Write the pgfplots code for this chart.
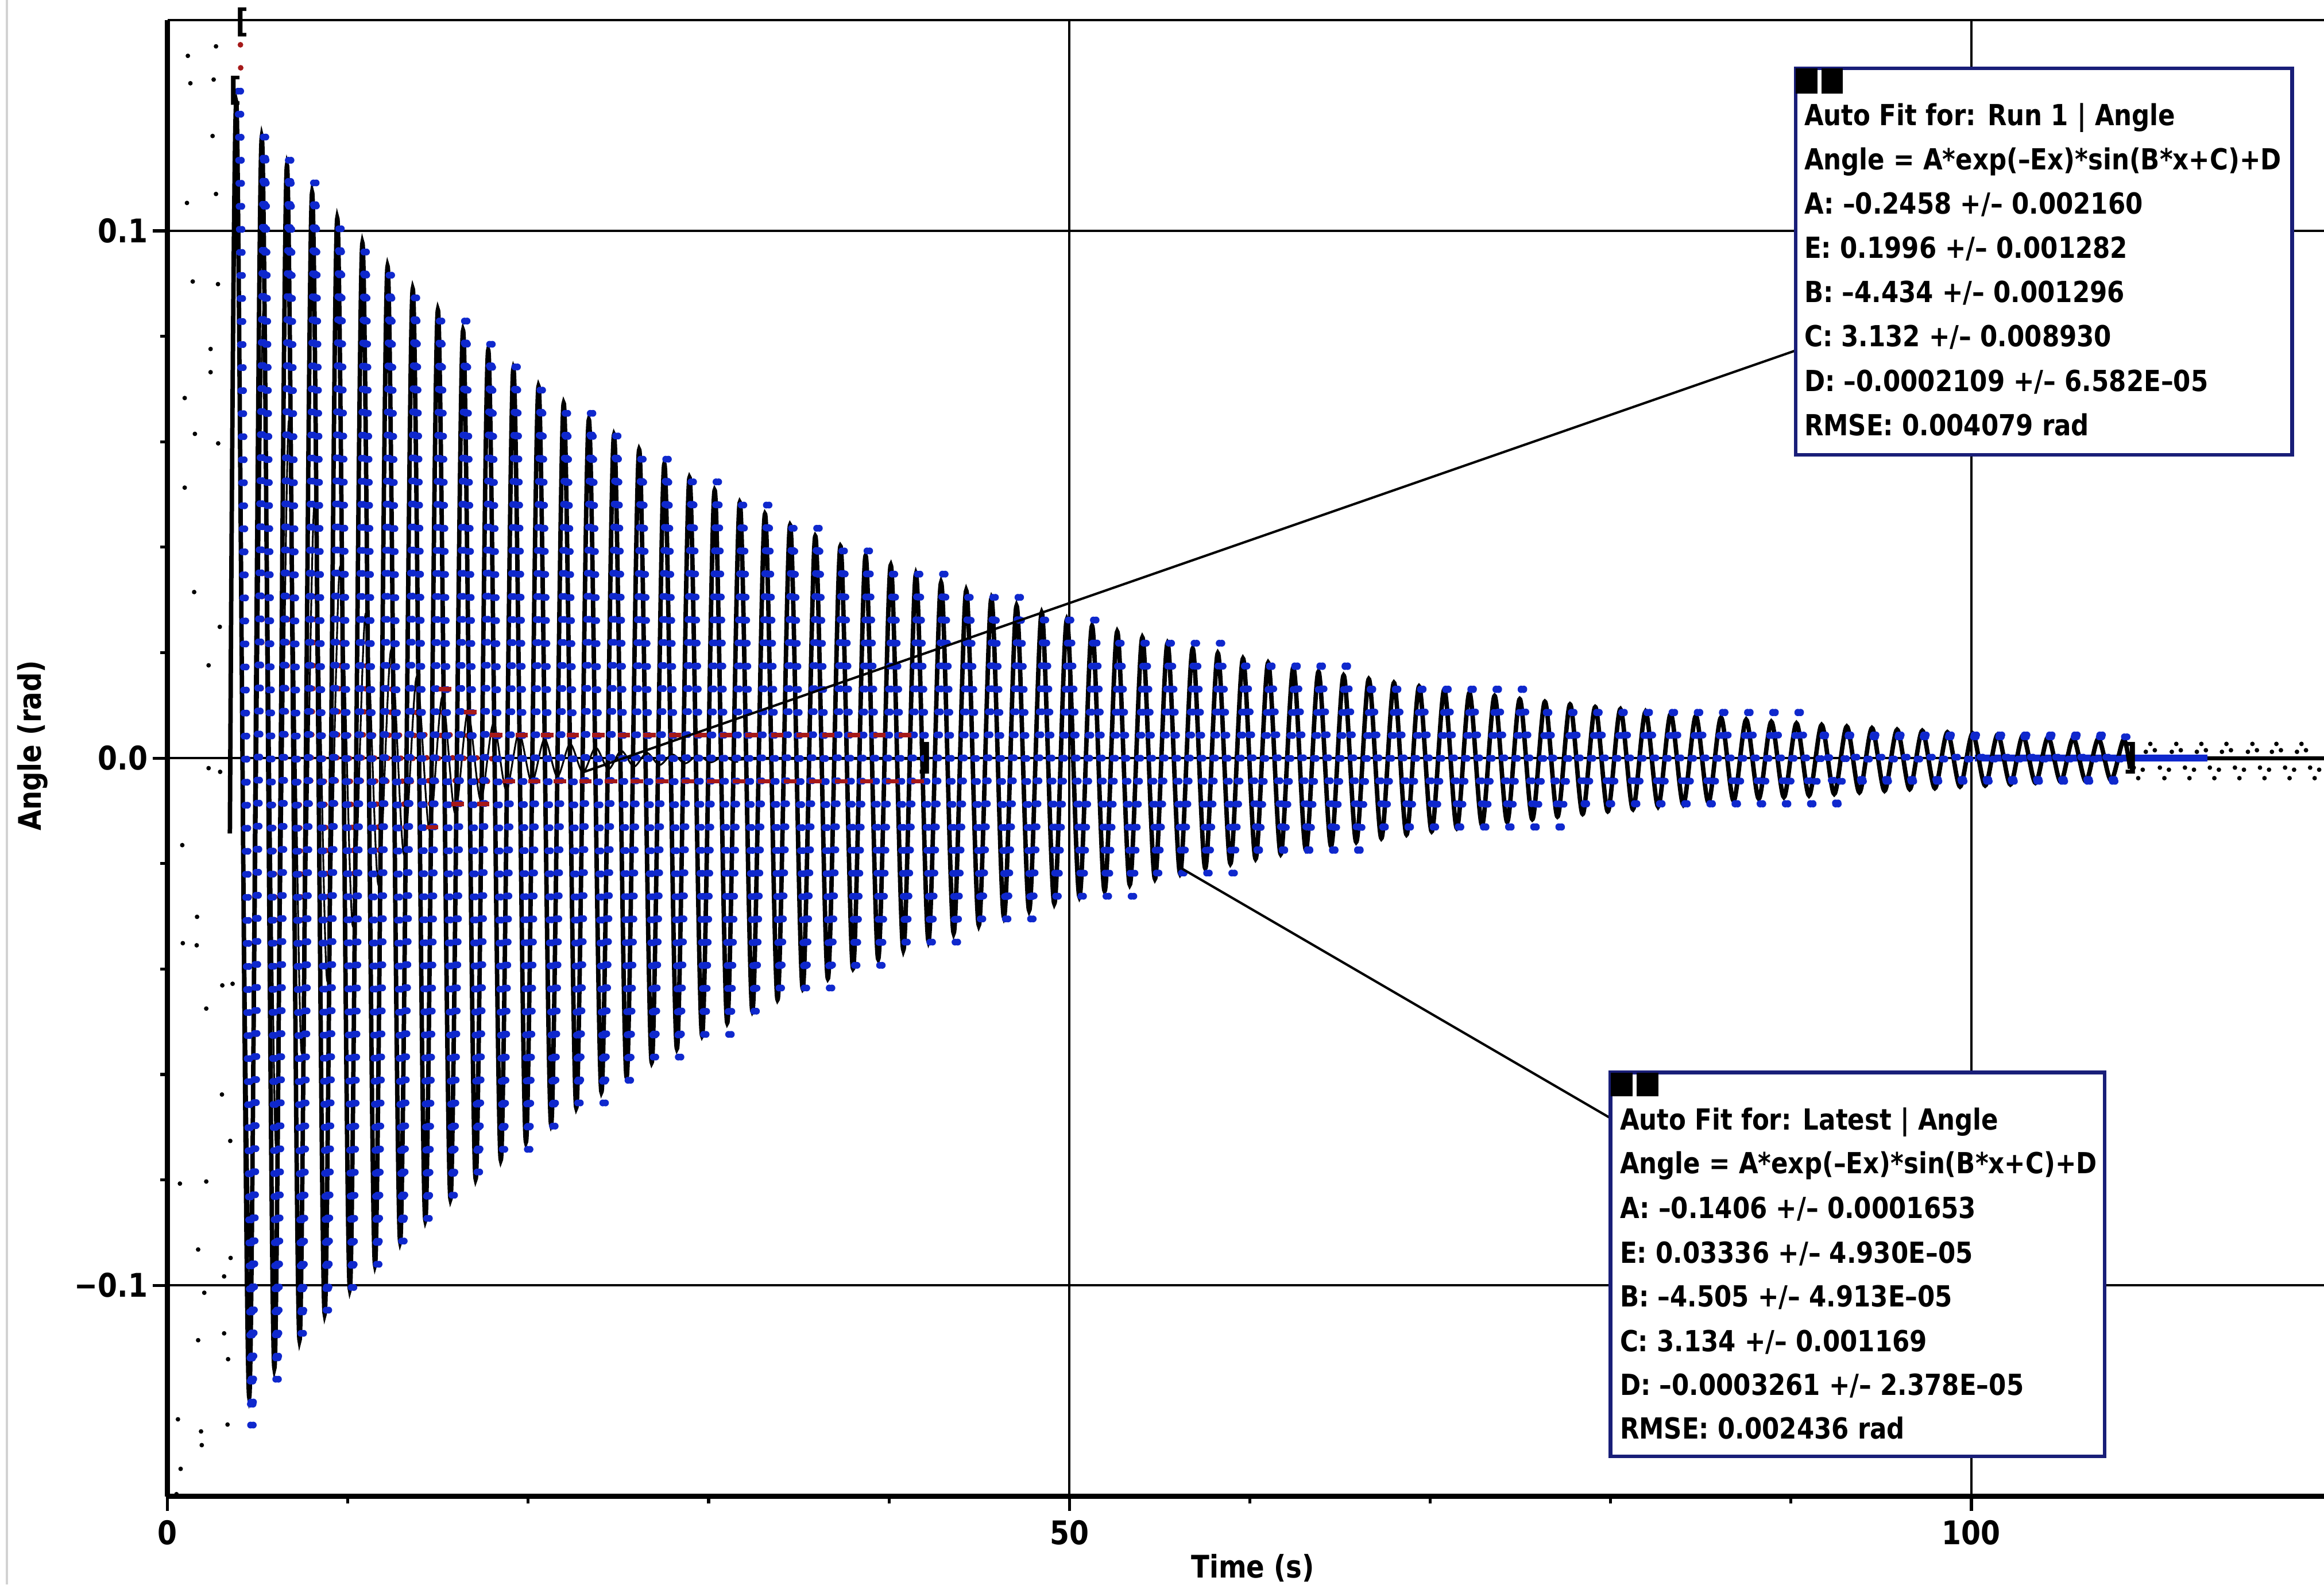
\documentclass[border=0pt]{standalone}
\usepackage{fontspec}
\setmainfont{DejaVu Sans}[FakeStretch=0.86]
\usepackage{pgfplots}
\usepackage{pgfplotstable}
\pgfplotsset{compat=1.18}
\definecolor{dotblue}{RGB}{15,40,205}
\definecolor{dotred}{RGB}{165,25,25}
\definecolor{boxline}{RGB}{25,30,120}
\newcommand{\af}{\fontsize{9.8}{12}\selectfont\bfseries}
% Latest data (quantized to pi/720 rad), one stroke per half swing
\pgfplotstableread[row sep=\\]{
x y\\
3.984 0.1265\\ 4.681 -0.1265\\ nan nan\\
4.681 -0.1265\\ 5.378 0.1178\\ nan nan\\
5.378 0.1178\\ 6.076 -0.1178\\ nan nan\\
6.076 -0.1178\\ 6.773 0.1134\\ nan nan\\
6.773 0.1134\\ 7.471 -0.1091\\ nan nan\\
7.471 -0.1091\\ 8.168 0.1091\\ nan nan\\
8.168 0.1091\\ 8.865 -0.1047\\ nan nan\\
8.865 -0.1047\\ 9.563 0.1004\\ nan nan\\
9.563 0.1004\\ 10.260 -0.1004\\ nan nan\\
10.260 -0.1004\\ 10.957 0.0960\\ nan nan\\
10.957 0.0960\\ 11.655 -0.0960\\ nan nan\\
11.655 -0.0960\\ 12.352 0.0916\\ nan nan\\
12.352 0.0916\\ 13.049 -0.0916\\ nan nan\\
13.049 -0.0916\\ 13.747 0.0873\\ nan nan\\
13.747 0.0873\\ 14.444 -0.0873\\ nan nan\\
14.444 -0.0873\\ 15.141 0.0829\\ nan nan\\
15.141 0.0829\\ 15.839 -0.0829\\ nan nan\\
15.839 -0.0829\\ 16.536 0.0829\\ nan nan\\
16.536 0.0829\\ 17.234 -0.0785\\ nan nan\\
17.234 -0.0785\\ 17.931 0.0785\\ nan nan\\
17.931 0.0785\\ 18.628 -0.0742\\ nan nan\\
18.628 -0.0742\\ 19.326 0.0742\\ nan nan\\
19.326 0.0742\\ 20.023 -0.0742\\ nan nan\\
20.023 -0.0742\\ 20.720 0.0698\\ nan nan\\
20.720 0.0698\\ 21.418 -0.0698\\ nan nan\\
21.418 -0.0698\\ 22.115 0.0654\\ nan nan\\
22.115 0.0654\\ 22.812 -0.0654\\ nan nan\\
22.812 -0.0654\\ 23.510 0.0654\\ nan nan\\
23.510 0.0654\\ 24.207 -0.0654\\ nan nan\\
24.207 -0.0654\\ 24.904 0.0611\\ nan nan\\
24.904 0.0611\\ 25.602 -0.0611\\ nan nan\\
25.602 -0.0611\\ 26.299 0.0567\\ nan nan\\
26.299 0.0567\\ 26.996 -0.0567\\ nan nan\\
26.996 -0.0567\\ 27.694 0.0567\\ nan nan\\
27.694 0.0567\\ 28.391 -0.0567\\ nan nan\\
28.391 -0.0567\\ 29.089 0.0524\\ nan nan\\
29.089 0.0524\\ 29.786 -0.0524\\ nan nan\\
29.786 -0.0524\\ 30.483 0.0524\\ nan nan\\
30.483 0.0524\\ 31.181 -0.0524\\ nan nan\\
31.181 -0.0524\\ 31.878 0.0480\\ nan nan\\
31.878 0.0480\\ 32.575 -0.0480\\ nan nan\\
32.575 -0.0480\\ 33.273 0.0480\\ nan nan\\
33.273 0.0480\\ 33.970 -0.0436\\ nan nan\\
33.970 -0.0436\\ 34.667 0.0436\\ nan nan\\
34.667 0.0436\\ 35.365 -0.0436\\ nan nan\\
35.365 -0.0436\\ 36.062 0.0436\\ nan nan\\
36.062 0.0436\\ 36.759 -0.0436\\ nan nan\\
36.759 -0.0436\\ 37.457 0.0393\\ nan nan\\
37.457 0.0393\\ 38.154 -0.0393\\ nan nan\\
38.154 -0.0393\\ 38.851 0.0393\\ nan nan\\
38.851 0.0393\\ 39.549 -0.0393\\ nan nan\\
39.549 -0.0393\\ 40.246 0.0349\\ nan nan\\
40.246 0.0349\\ 40.944 -0.0349\\ nan nan\\
40.944 -0.0349\\ 41.641 0.0349\\ nan nan\\
41.641 0.0349\\ 42.338 -0.0349\\ nan nan\\
42.338 -0.0349\\ 43.036 0.0349\\ nan nan\\
43.036 0.0349\\ 43.733 -0.0349\\ nan nan\\
43.733 -0.0349\\ 44.430 0.0305\\ nan nan\\
44.430 0.0305\\ 45.128 -0.0305\\ nan nan\\
45.128 -0.0305\\ 45.825 0.0305\\ nan nan\\
45.825 0.0305\\ 46.522 -0.0305\\ nan nan\\
46.522 -0.0305\\ 47.220 0.0305\\ nan nan\\
47.220 0.0305\\ 47.917 -0.0305\\ nan nan\\
47.917 -0.0305\\ 48.614 0.0262\\ nan nan\\
48.614 0.0262\\ 49.312 -0.0262\\ nan nan\\
49.312 -0.0262\\ 50.009 0.0262\\ nan nan\\
50.009 0.0262\\ 50.707 -0.0262\\ nan nan\\
50.707 -0.0262\\ 51.404 0.0262\\ nan nan\\
51.404 0.0262\\ 52.101 -0.0262\\ nan nan\\
52.101 -0.0262\\ 52.799 0.0218\\ nan nan\\
52.799 0.0218\\ 53.496 -0.0262\\ nan nan\\
53.496 -0.0262\\ 54.193 0.0218\\ nan nan\\
54.193 0.0218\\ 54.891 -0.0218\\ nan nan\\
54.891 -0.0218\\ 55.588 0.0218\\ nan nan\\
55.588 0.0218\\ 56.285 -0.0218\\ nan nan\\
56.285 -0.0218\\ 56.983 0.0218\\ nan nan\\
56.983 0.0218\\ 57.680 -0.0218\\ nan nan\\
57.680 -0.0218\\ 58.377 0.0218\\ nan nan\\
58.377 0.0218\\ 59.075 -0.0218\\ nan nan\\
59.075 -0.0218\\ 59.772 0.0175\\ nan nan\\
59.772 0.0175\\ 60.470 -0.0175\\ nan nan\\
60.470 -0.0175\\ 61.167 0.0175\\ nan nan\\
61.167 0.0175\\ 61.864 -0.0175\\ nan nan\\
61.864 -0.0175\\ 62.562 0.0175\\ nan nan\\
62.562 0.0175\\ 63.259 -0.0175\\ nan nan\\
63.259 -0.0175\\ 63.956 0.0175\\ nan nan\\
63.956 0.0175\\ 64.654 -0.0175\\ nan nan\\
64.654 -0.0175\\ 65.351 0.0175\\ nan nan\\
65.351 0.0175\\ 66.048 -0.0175\\ nan nan\\
66.048 -0.0175\\ 66.746 0.0131\\ nan nan\\
66.746 0.0131\\ 67.443 -0.0131\\ nan nan\\
67.443 -0.0131\\ 68.140 0.0131\\ nan nan\\
68.140 0.0131\\ 68.838 -0.0131\\ nan nan\\
68.838 -0.0131\\ 69.535 0.0131\\ nan nan\\
69.535 0.0131\\ 70.233 -0.0131\\ nan nan\\
70.233 -0.0131\\ 70.930 0.0131\\ nan nan\\
70.930 0.0131\\ 71.627 -0.0131\\ nan nan\\
71.627 -0.0131\\ 72.325 0.0131\\ nan nan\\
72.325 0.0131\\ 73.022 -0.0131\\ nan nan\\
73.022 -0.0131\\ 73.719 0.0131\\ nan nan\\
73.719 0.0131\\ 74.417 -0.0131\\ nan nan\\
74.417 -0.0131\\ 75.114 0.0131\\ nan nan\\
75.114 0.0131\\ 75.811 -0.0131\\ nan nan\\
75.811 -0.0131\\ 76.509 0.0087\\ nan nan\\
76.509 0.0087\\ 77.206 -0.0131\\ nan nan\\
77.206 -0.0131\\ 77.903 0.0087\\ nan nan\\
77.903 0.0087\\ 78.601 -0.0087\\ nan nan\\
78.601 -0.0087\\ 79.298 0.0087\\ nan nan\\
79.298 0.0087\\ 79.995 -0.0087\\ nan nan\\
79.995 -0.0087\\ 80.693 0.0087\\ nan nan\\
80.693 0.0087\\ 81.390 -0.0087\\ nan nan\\
81.390 -0.0087\\ 82.088 0.0087\\ nan nan\\
82.088 0.0087\\ 82.785 -0.0087\\ nan nan\\
82.785 -0.0087\\ 83.482 0.0087\\ nan nan\\
83.482 0.0087\\ 84.180 -0.0087\\ nan nan\\
84.180 -0.0087\\ 84.877 0.0087\\ nan nan\\
84.877 0.0087\\ 85.574 -0.0087\\ nan nan\\
85.574 -0.0087\\ 86.272 0.0087\\ nan nan\\
86.272 0.0087\\ 86.969 -0.0087\\ nan nan\\
86.969 -0.0087\\ 87.666 0.0087\\ nan nan\\
87.666 0.0087\\ 88.364 -0.0087\\ nan nan\\
88.364 -0.0087\\ 89.061 0.0087\\ nan nan\\
89.061 0.0087\\ 89.758 -0.0087\\ nan nan\\
89.758 -0.0087\\ 90.456 0.0087\\ nan nan\\
90.456 0.0087\\ 91.153 -0.0087\\ nan nan\\
91.153 -0.0087\\ 91.850 0.0044\\ nan nan\\
91.850 0.0044\\ 92.548 -0.0087\\ nan nan\\
92.548 -0.0087\\ 93.245 0.0044\\ nan nan\\
93.245 0.0044\\ 93.943 -0.0044\\ nan nan\\
93.943 -0.0044\\ 94.640 0.0044\\ nan nan\\
94.640 0.0044\\ 95.337 -0.0044\\ nan nan\\
95.337 -0.0044\\ 96.035 0.0044\\ nan nan\\
96.035 0.0044\\ 96.732 -0.0044\\ nan nan\\
96.732 -0.0044\\ 97.429 0.0044\\ nan nan\\
97.429 0.0044\\ 98.127 -0.0044\\ nan nan\\
98.127 -0.0044\\ 98.824 0.0044\\ nan nan\\
98.824 0.0044\\ 99.521 -0.0044\\ nan nan\\
99.521 -0.0044\\ 100.219 0.0044\\ nan nan\\
100.219 0.0044\\ 100.916 -0.0044\\ nan nan\\
100.916 -0.0044\\ 101.613 0.0044\\ nan nan\\
101.613 0.0044\\ 102.311 -0.0044\\ nan nan\\
102.311 -0.0044\\ 103.008 0.0044\\ nan nan\\
103.008 0.0044\\ 103.706 -0.0044\\ nan nan\\
103.706 -0.0044\\ 104.403 0.0044\\ nan nan\\
104.403 0.0044\\ 105.100 -0.0044\\ nan nan\\
105.100 -0.0044\\ 105.798 0.0044\\ nan nan\\
105.798 0.0044\\ 106.495 -0.0044\\ nan nan\\
106.495 -0.0044\\ 107.192 0.0044\\ nan nan\\
107.192 0.0044\\ 107.890 -0.0044\\ nan nan\\
107.890 -0.0044\\ 108.587 0.0044\\ nan nan\\
}\latestdata
\begin{document}
\begin{tikzpicture}
\begin{axis}[
  at={(0,0)}, anchor=south west,
  scale only axis, width=727.5pt, height=498pt,
  xmin=0, xmax=119.55, ymin=-0.14, ymax=0.14,
  enlargelimits=false,
  axis lines=left,
  axis line style={-, line width=1.7pt},
  every outer x axis line/.append style={-},
  every outer y axis line/.append style={-},
  xtick={0,50,100}, xticklabels={0,50,100},
  ytick={-0.1,0,0.1}, yticklabels={−0.1,0.0,0.1},
  minor x tick num=4, minor y tick num=4,
  tick align=outside,
  major tick length=5pt, minor tick length=2.5pt,
  tick style={black, line width=1pt},
  grid=major, major grid style={black, line width=0.85pt},
  extra y ticks={0.14}, extra y tick labels={},
  extra y tick style={grid=major, tick style={draw=none}},
  tick label style={font=\fontsize{11}{13}\selectfont\bfseries},
  yticklabel style={inner sep=1.5pt},
  xticklabel style={inner sep=3pt},
  xlabel={Time (s)}, ylabel={Angle (rad)},
  label style={font=\fontsize{10.5}{12}\selectfont\bfseries},
  xlabel style={at={(axis description cs:0.5033,-0.0487)}, anchor=center},
  ylabel style={at={(axis description cs:-0.0626,0.5085)}, anchor=center},
  unbounded coords=jump,
]
% Run 1 data (dark red, quantized)
\addplot[dotred, mark=none, line width=1.9pt, line cap=round, dash pattern=on 0.01pt off 7.7605pt] table[row sep=\\] {
x y\\
4.045 0.1353\\ 4.753 -0.1004\\ nan nan\\
4.753 -0.1004\\ 5.462 0.0829\\ nan nan\\
5.462 0.0829\\ 6.170 -0.0742\\ nan nan\\
6.170 -0.0742\\ 6.879 0.0654\\ nan nan\\
6.879 0.0654\\ 7.587 -0.0567\\ nan nan\\
7.587 -0.0567\\ 8.296 0.0480\\ nan nan\\
8.296 0.0480\\ 9.004 -0.0436\\ nan nan\\
9.004 -0.0436\\ 9.713 0.0349\\ nan nan\\
9.713 0.0349\\ 10.422 -0.0305\\ nan nan\\
10.422 -0.0305\\ 11.130 0.0262\\ nan nan\\
11.130 0.0262\\ 11.839 -0.0262\\ nan nan\\
11.839 -0.0262\\ 12.547 0.0218\\ nan nan\\
12.547 0.0218\\ 13.256 -0.0175\\ nan nan\\
13.256 -0.0175\\ 13.964 0.0175\\ nan nan\\
13.964 0.0175\\ 14.673 -0.0131\\ nan nan\\
14.673 -0.0131\\ 15.381 0.0131\\ nan nan\\
15.381 0.0131\\ 16.090 -0.0087\\ nan nan\\
16.090 -0.0087\\ 16.798 0.0087\\ nan nan\\
16.798 0.0087\\ 17.507 -0.0087\\ nan nan\\
17.507 -0.0087\\ 18.215 0.0044\\ nan nan\\
};
% Latest data at zero level near the end
\addplot[dotblue, mark=none, line width=2.2pt] coordinates {(100.2,0) (113.1,0)};
% Run 1 fit
\addplot[black, mark=none, line width=0.6pt, smooth] table[row sep=\\] {
x y\\
3.895 0.1128\\ 4.603 -0.0983\\ 5.312 0.0849\\ 6.020 -0.0741\\ 6.729 0.0640\\
7.437 -0.0559\\ 8.146 0.0482\\ 8.854 -0.0422\\ 9.563 0.0362\\ 10.272 -0.0318\\
10.980 0.0273\\ 11.689 -0.0240\\ 12.397 0.0205\\ 13.106 -0.0182\\ 13.814 0.0154\\
14.523 -0.0137\\ 15.231 0.0116\\ 15.940 -0.0104\\ 16.648 0.0087\\ 17.357 -0.0079\\
18.065 0.0065\\ 18.774 -0.0060\\ 19.482 0.0048\\ 20.191 -0.0046\\ 20.899 0.0036\\
21.608 -0.0035\\ 22.316 0.0027\\ 23.025 -0.0027\\ 23.734 0.0020\\ 24.442 -0.0021\\
25.151 0.0014\\ 25.859 -0.0016\\ 26.568 0.0010\\ 27.276 -0.0013\\ 27.985 0.0007\\
28.693 -0.0010\\ 29.402 0.0005\\ 30.110 -0.0008\\ 30.819 0.0003\\ 31.527 -0.0007\\
32.500 -0.0002\\ 42.000 -0.0002\\
};
% Latest fit
\addplot[black, mark=none, line width=1.5pt, smooth] table[row sep=\\] {
x y\\
3.460 -0.0143\\
3.834 0.1234\\ 4.531 -0.1212\\ 5.228 0.1178\\ 5.926 -0.1157\\ 6.623 0.1124\\
7.321 -0.1104\\ 8.018 0.1073\\ 8.715 -0.1054\\ 9.413 0.1024\\ 10.110 -0.1007\\
10.807 0.0977\\ 11.505 -0.0961\\ 12.202 0.0933\\ 12.899 -0.0917\\ 13.597 0.0890\\
14.294 -0.0876\\ 14.991 0.0850\\ 15.689 -0.0836\\ 16.386 0.0811\\ 17.084 -0.0798\\
17.781 0.0774\\ 18.478 -0.0762\\ 19.176 0.0739\\ 19.873 -0.0728\\ 20.570 0.0705\\
21.268 -0.0695\\ 21.965 0.0673\\ 22.662 -0.0663\\ 23.360 0.0642\\ 24.057 -0.0633\\
24.754 0.0613\\ 25.452 -0.0605\\ 26.149 0.0585\\ 26.846 -0.0577\\ 27.544 0.0558\\
28.241 -0.0551\\ 28.939 0.0532\\ 29.636 -0.0526\\ 30.333 0.0508\\ 31.031 -0.0502\\
31.728 0.0485\\ 32.425 -0.0480\\ 33.123 0.0463\\ 33.820 -0.0458\\ 34.517 0.0442\\
35.215 -0.0437\\ 35.912 0.0421\\ 36.609 -0.0418\\ 37.307 0.0402\\ 38.004 -0.0399\\
38.701 0.0384\\ 39.399 -0.0381\\ 40.096 0.0366\\ 40.794 -0.0364\\ 41.491 0.0349\\
42.188 -0.0347\\ 42.886 0.0333\\ 43.583 -0.0332\\ 44.280 0.0318\\ 44.978 -0.0317\\
45.675 0.0303\\ 46.372 -0.0302\\ 47.070 0.0289\\ 47.767 -0.0289\\ 48.464 0.0276\\
49.162 -0.0276\\ 49.859 0.0263\\ 50.557 -0.0263\\ 51.254 0.0251\\ 51.951 -0.0252\\
52.649 0.0240\\ 53.346 -0.0240\\ 54.043 0.0229\\ 54.741 -0.0229\\ 55.438 0.0218\\
56.135 -0.0219\\ 56.833 0.0208\\ 57.530 -0.0209\\ 58.227 0.0199\\ 58.925 -0.0200\\
59.622 0.0189\\ 60.320 -0.0191\\ 61.017 0.0181\\ 61.714 -0.0182\\ 62.412 0.0172\\
63.109 -0.0174\\ 63.806 0.0164\\ 64.504 -0.0167\\ 65.201 0.0157\\ 65.898 -0.0159\\
66.596 0.0150\\ 67.293 -0.0152\\ 67.990 0.0143\\ 68.688 -0.0145\\ 69.385 0.0136\\
70.083 -0.0139\\ 70.780 0.0130\\ 71.477 -0.0133\\ 72.175 0.0124\\ 72.872 -0.0127\\
73.569 0.0118\\ 74.267 -0.0121\\ 74.964 0.0112\\ 75.661 -0.0116\\ 76.359 0.0107\\
77.056 -0.0111\\ 77.753 0.0102\\ 78.451 -0.0106\\ 79.148 0.0097\\ 79.845 -0.0101\\
80.543 0.0093\\ 81.240 -0.0097\\ 81.938 0.0088\\ 82.635 -0.0092\\ 83.332 0.0084\\
84.030 -0.0088\\ 84.727 0.0080\\ 85.424 -0.0084\\ 86.122 0.0077\\ 86.819 -0.0081\\
87.516 0.0073\\ 88.214 -0.0077\\ 88.911 0.0069\\ 89.608 -0.0074\\ 90.306 0.0066\\
91.003 -0.0071\\ 91.700 0.0063\\ 92.398 -0.0068\\ 93.095 0.0060\\ 93.793 -0.0065\\
94.490 0.0057\\ 95.187 -0.0062\\ 95.885 0.0054\\ 96.582 -0.0059\\ 97.279 0.0052\\
97.977 -0.0057\\ 98.674 0.0049\\ 99.371 -0.0054\\ 100.069 0.0047\\ 100.766 -0.0052\\
101.463 0.0045\\ 102.161 -0.0050\\ 102.858 0.0043\\ 103.556 -0.0047\\ 104.253 0.0040\\
104.950 -0.0045\\ 105.648 0.0038\\ 106.345 -0.0044\\ 107.042 0.0037\\ 107.740 -0.0042\\
108.437 0.0035\\ 108.800 -0.0020\\
};
% Latest data, blue dots (drawn twice, slightly offset, for the elongated dots)
\addplot[dotblue, mark=none, line width=2.3pt, line cap=round, dash pattern=on 0.01pt off 7.7605pt, xshift=-0.45pt] table {\latestdata};
\addplot[dotblue, mark=none, line width=2.3pt, line cap=round, dash pattern=on 0.01pt off 7.7605pt, xshift=0.45pt] table {\latestdata};
% Run 1 data at +-1 step after the swing has died out (on top)
\addplot[dotred, only marks, mark=-, mark size=2.1pt, mark options={line width=1.5pt}] table[row sep=\\] {
x y\\
14.673 -0.0131\\ 15.381 0.0131\\ 16.090 -0.0087\\ 16.798 0.0087\\ 17.507 -0.0087\\
18.215 0.0044\\ 18.924 -0.0044\\ 19.632 0.0044\\ 20.341 -0.0044\\ 21.049 0.0044\\
21.758 -0.0044\\ 22.467 0.0044\\ 23.175 -0.0044\\ 23.884 0.0044\\ 24.592 -0.0044\\
25.301 0.0044\\ 26.009 -0.0044\\ 26.718 0.0044\\ 27.426 -0.0044\\ 28.135 0.0044\\
28.843 -0.0044\\ 29.552 0.0044\\ 30.260 -0.0044\\ 30.969 0.0044\\ 31.677 -0.0044\\
32.386 0.0044\\ 33.095 -0.0044\\ 33.803 0.0044\\ 34.512 -0.0044\\ 35.220 0.0044\\
35.929 -0.0044\\ 36.637 0.0044\\ 37.346 -0.0044\\ 38.054 0.0044\\ 38.763 -0.0044\\
39.471 0.0044\\ 40.180 -0.0044\\ 40.888 0.0044\\ 41.597 -0.0044\\
};
% flat line after the data
\addplot[black, mark=none, line width=1.3pt] coordinates {(113.1,0) (119.55,0)};
% tiny black points
\addplot[black, only marks, mark=*, mark size=0.55pt] table[row sep=\\] {
x y\\
2.69 0.135\\ 1.13 0.1332\\ 1.27 0.128\\ 2.56 0.1287\\ 2.50 0.118\\ 2.69 0.107\\
1.08 0.1053\\ 1.40 0.0904\\ 2.80 0.0899\\ 2.39 0.0776\\ 2.39 0.0732\\ 0.955 0.0683\\
1.52 0.0615\\ 2.81 0.0597\\ 0.955 0.0513\\ 1.48 0.0315\\ 2.90 0.0249\\ 2.28 0.0176\\
2.28 -0.0019\\ 2.92 -0.0026\\ 0.82 -0.0165\\ 1.64 -0.0301\\ 0.85 -0.0351\\ 1.62 -0.0355\\
3.04 -0.0431\\ 3.61 -0.0428\\ 2.15 -0.0475\\ 3.02 -0.0638\\ 3.48 -0.0726\\ 0.69 -0.0807\\
2.15 -0.0803\\ 1.70 -0.0932\\ 3.50 -0.0948\\ 3.14 -0.0983\\ 2.04 -0.1014\\ 3.14 -0.1091\\
1.70 -0.1104\\ 3.36 -0.1140\\ 0.58 -0.1254\\ 1.86 -0.1277\\ 3.33 -0.1264\\ 1.90 -0.1303\\
0.73 -0.1348\\ 0.50 -0.1396\\
109.67 0.0012\\ 109.92 0.0027\\ 110.17 0.0015\\ 111.11 0.0012\\ 111.36 0.0027\\ 111.61 0.0015\\
112.50 0.0012\\ 112.75 0.0027\\ 113.00 0.0015\\ 113.89 0.0012\\ 114.14 0.0027\\ 114.39 0.0015\\
115.33 0.0012\\ 115.58 0.0027\\ 115.83 0.0015\\ 116.66 0.0012\\ 116.91 0.0027\\ 117.16 0.0015\\
118.05 0.0012\\ 118.30 0.0027\\ 118.55 0.0015\\
109.00 -0.0018\\ 109.25 -0.0038\\ 109.50 -0.0022\\ 110.45 -0.0018\\ 110.70 -0.0038\\ 110.95 -0.0022\\
111.84 -0.0018\\ 112.09 -0.0038\\ 112.34 -0.0022\\ 113.22 -0.0018\\ 113.47 -0.0038\\ 113.72 -0.0022\\
114.61 -0.0018\\ 114.86 -0.0038\\ 115.11 -0.0022\\ 116.00 -0.0018\\ 116.25 -0.0038\\ 116.50 -0.0022\\
117.39 -0.0018\\ 117.64 -0.0038\\ 117.89 -0.0022\\ 118.78 -0.0018\\ 119.03 -0.0038\\ 119.28 -0.0022\\
};
\coordinate (c1) at (axis cs:23.02,-0.0027);
\coordinate (c2) at (axis cs:56.26,-0.0210);
\coordinate (br1) at (axis cs:4.15,0.1396);
\coordinate (br2) at (axis cs:3.77,0.1266);
\coordinate (br3) at (axis cs:42.0,0.0);
\coordinate (br4) at (axis cs:108.85,0.0);
\end{axis}
% window edge
\draw[gray!35, line width=0.8pt] (-54.25pt,-29.75pt) -- (-54.25pt,504.75pt);
% fit range brackets
\node[font=\fontsize{11}{12}\selectfont\bfseries, inner sep=0pt] at (br1) {[};
\node[font=\fontsize{11}{12}\selectfont\bfseries, inner sep=0pt] at (br2) {[};
\node[font=\fontsize{12}{12}\selectfont\bfseries, inner sep=0pt] at (br3) {]};
\node[font=\fontsize{12}{12}\selectfont\bfseries, inner sep=0pt] at (br4) {]};
% connectors
\draw[black, line width=0.8pt] (c1) -- (549.25pt,386.5pt);
\draw[black, line width=0.8pt] (c2) -- (486.8pt,127.55pt);
% box 1
\filldraw[fill=white, draw=boxline, line width=1.2pt] (549.25pt,351.35pt) rectangle (716.75pt,481.75pt);
\fill[black] (549.25pt,473.25pt) rectangle (556.6pt,481.75pt);
\fill[black] (557.9pt,473.25pt) rectangle (565.15pt,481.75pt);
\node[anchor=base west, inner sep=0pt, font=\af] at (552pt,462.5pt) {Auto Fit for: Run 1 | Angle};
\node[anchor=base west, inner sep=0pt, font=\af] at (552pt,447.55pt) {Angle = A*exp(–Ex)*sin(B*x+C)+D};
\node[anchor=base west, inner sep=0pt, font=\af] at (552pt,432.6pt) {A: –0.2458 +/– 0.002160};
\node[anchor=base west, inner sep=0pt, font=\af] at (552pt,417.65pt) {E: 0.1996 +/– 0.001282};
\node[anchor=base west, inner sep=0pt, font=\af] at (552pt,402.7pt) {B: –4.434 +/– 0.001296};
\node[anchor=base west, inner sep=0pt, font=\af] at (552pt,387.75pt) {C: 3.132 +/– 0.008930};
\node[anchor=base west, inner sep=0pt, font=\af] at (552pt,372.8pt) {D: –0.0002109 +/– 6.582E–05};
\node[anchor=base west, inner sep=0pt, font=\af] at (552pt,357.85pt) {RMSE: 0.004079 rad};
% box 2
\filldraw[fill=white, draw=boxline, line width=1.2pt] (486.8pt,13.5pt) rectangle (653.5pt,142.95pt);
\fill[black] (486.8pt,134.9pt) rectangle (494.3pt,142.95pt);
\fill[black] (495.7pt,134.9pt) rectangle (503.05pt,142.95pt);
\node[anchor=base west, inner sep=0pt, font=\af] at (489.8pt,123.65pt) {Auto Fit for: Latest | Angle};
\node[anchor=base west, inner sep=0pt, font=\af] at (489.8pt,108.95pt) {Angle = A*exp(–Ex)*sin(B*x+C)+D};
\node[anchor=base west, inner sep=0pt, font=\af] at (489.8pt,93.8pt) {A: –0.1406 +/– 0.0001653};
\node[anchor=base west, inner sep=0pt, font=\af] at (489.8pt,78.7pt) {E: 0.03336 +/– 4.930E–05};
\node[anchor=base west, inner sep=0pt, font=\af] at (489.8pt,64.0pt) {B: –4.505 +/– 4.913E–05};
\node[anchor=base west, inner sep=0pt, font=\af] at (489.8pt,48.85pt) {C: 3.134 +/– 0.001169};
\node[anchor=base west, inner sep=0pt, font=\af] at (489.8pt,34.15pt) {D: –0.0003261 +/– 2.378E–05};
\node[anchor=base west, inner sep=0pt, font=\af] at (489.8pt,19.45pt) {RMSE: 0.002436 rad};
\pgfresetboundingbox
\path[use as bounding box] (-56.5pt,-29.75pt) rectangle (727.5pt,504.75pt);
\end{tikzpicture}
\end{document}
